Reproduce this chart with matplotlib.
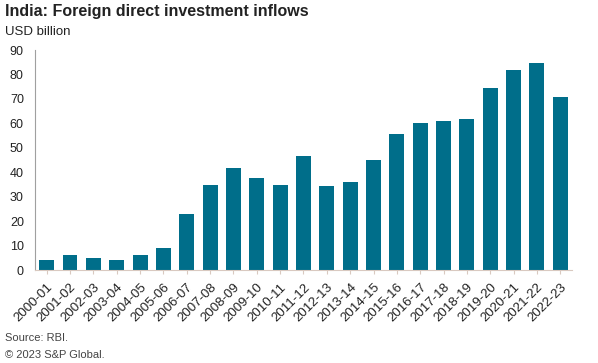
import matplotlib
matplotlib.use("Agg")
import matplotlib.pyplot as plt

BAR = "#006e8a"
TEXT = "#222222"

years = ["2000-01", "2001-02", "2002-03", "2003-04", "2004-05", "2005-06",
         "2006-07", "2007-08", "2008-09", "2009-10", "2010-11", "2011-12",
         "2012-13", "2013-14", "2014-15", "2015-16", "2016-17", "2017-18",
         "2018-19", "2019-20", "2020-21", "2021-22", "2022-23"]
fdi_inflows = [4.0, 6.1, 5.0, 4.3, 6.0, 9.0, 22.8, 34.8, 41.9, 37.7, 34.8, 46.6,
               34.3, 36.0, 45.1, 55.6, 60.2, 61.0, 62.0, 74.4, 82.0, 84.8, 71.0]
yticks = [0, 10, 20, 30, 40, 50, 60, 70, 80, 90]

plt.rcParams["font.family"] = ["Liberation Sans", "DejaVu Sans"]

fig = plt.figure(figsize=(5.98, 3.63), dpi=100)
ax = fig.add_axes([0.0585, 0.256, 0.898, 0.606])

x = range(len(years))
ax.bar(x, fdi_inflows, width=0.64, color=BAR, zorder=2)

ax.set_xlim(-0.5, len(years) - 0.5)
ax.set_ylim(0, 90)
ax.set_yticks(yticks)
ax.set_xticks(list(x))
ax.set_xticklabels(years, rotation=45, ha="right", rotation_mode="anchor",
                   fontsize=9.5, color=TEXT)
ax.tick_params(axis="y", length=0, labelsize=9, colors=TEXT, pad=8)
ax.tick_params(axis="x", length=3, color="#d9c9c0", pad=5)

for side in ("top", "right"):
    ax.spines[side].set_visible(False)
ax.spines["left"].set_color("#a0a0a0")
ax.spines["left"].set_linewidth(0.8)
ax.spines["bottom"].set_color("#d9c9c0")
ax.spines["bottom"].set_linewidth(0.8)

fig.text(0.008, 0.967, "India: Foreign direct investment inflows", fontsize=11.5,
         fontweight="bold", color=TEXT, va="center")
fig.text(0.008, 0.913, "USD billion", fontsize=9.5, color=TEXT, va="center")
fig.text(0.008, 0.069, "Source: RBI.", fontsize=8, color="#444444", va="center")
fig.text(0.008, 0.022, "\u00a9 2023 S&P Global.", fontsize=8, color="#444444", va="center")

fig.savefig("out.png", dpi=100)
